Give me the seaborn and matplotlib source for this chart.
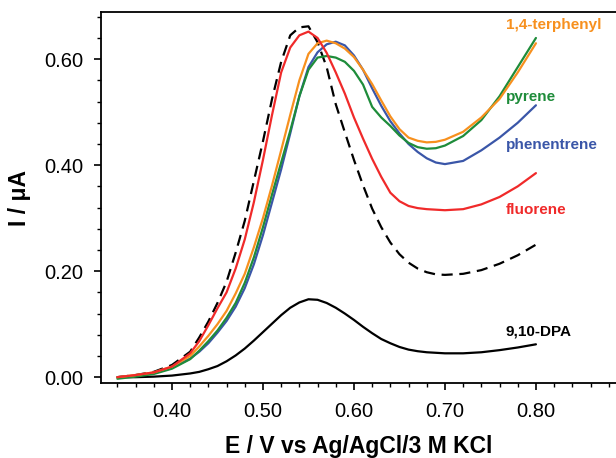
import numpy as np
import pandas as pd
import seaborn as sns
import matplotlib.pyplot as plt
from matplotlib.ticker import MultipleLocator, FormatStrFormatter

# potential grid (V vs Ag/AgCl/3 M KCl)
E = [0.34, 0.36, 0.38, 0.40, 0.42, 0.43, 0.44, 0.45, 0.46, 0.47, 0.48, 0.49,
     0.50, 0.51, 0.52, 0.53, 0.54, 0.55, 0.56, 0.57, 0.58, 0.59, 0.60, 0.61,
     0.62, 0.63, 0.64, 0.65, 0.66, 0.67, 0.68, 0.69, 0.70, 0.72, 0.74, 0.76,
     0.78, 0.80]

# currents in uA
dashed = [0.000, 0.004, 0.010, 0.023, 0.048, 0.075, 0.105, 0.140, 0.180, 0.235, 0.295, 0.370,
          0.445, 0.525, 0.595, 0.645, 0.660, 0.662, 0.632, 0.585, 0.515, 0.462, 0.410, 0.362,
          0.318, 0.283, 0.254, 0.232, 0.216, 0.205, 0.198, 0.194, 0.193, 0.195, 0.202, 0.214,
          0.230, 0.250]
fluorene = [0.000, 0.004, 0.009, 0.020, 0.045, 0.068, 0.098, 0.130, 0.160, 0.205, 0.260, 0.330,
            0.410, 0.495, 0.575, 0.622, 0.645, 0.652, 0.640, 0.612, 0.575, 0.535, 0.490, 0.450,
            0.412, 0.378, 0.348, 0.332, 0.323, 0.319, 0.317, 0.316, 0.315, 0.317, 0.326, 0.340,
            0.360, 0.385]
terphenyl = [0.000, 0.004, 0.009, 0.020, 0.040, 0.058, 0.078, 0.100, 0.125, 0.158, 0.195, 0.245,
             0.300, 0.362, 0.428, 0.495, 0.560, 0.610, 0.630, 0.635, 0.630, 0.620, 0.604, 0.580,
             0.553, 0.522, 0.492, 0.468, 0.452, 0.446, 0.443, 0.444, 0.448, 0.463, 0.490, 0.525,
             0.575, 0.630]
pyrene = [-0.003, 0.001, 0.006, 0.016, 0.034, 0.050, 0.068, 0.088, 0.112, 0.140, 0.178, 0.226,
          0.283, 0.345, 0.405, 0.465, 0.530, 0.580, 0.603, 0.606, 0.603, 0.595, 0.578, 0.552,
          0.510, 0.490, 0.474, 0.456, 0.442, 0.434, 0.431, 0.432, 0.437, 0.455, 0.485, 0.530,
          0.585, 0.640]
phenentrene = [0.000, 0.003, 0.008, 0.018, 0.035, 0.048, 0.064, 0.084, 0.106, 0.133, 0.168, 0.213,
               0.268, 0.330, 0.392, 0.460, 0.530, 0.585, 0.613, 0.628, 0.633, 0.626, 0.607, 0.580,
               0.545, 0.512, 0.483, 0.460, 0.440, 0.425, 0.413, 0.405, 0.402, 0.408, 0.428, 0.452,
               0.480, 0.513]
dpa = [0.000, 0.000, 0.001, 0.003, 0.007, 0.010, 0.015, 0.021, 0.030, 0.041, 0.054, 0.069,
       0.085, 0.101, 0.117, 0.131, 0.141, 0.147, 0.146, 0.140, 0.131, 0.120, 0.108, 0.095,
       0.083, 0.072, 0.064, 0.057, 0.052, 0.049, 0.047, 0.046, 0.045, 0.045, 0.047, 0.051,
       0.056, 0.062]

orange = '#F7901E'
green = '#1E8C3A'
blue = '#3A56A8'
red = '#F02A2A'

sns.set_style('ticks')
plt.rcParams['font.family'] = ['Liberation Sans', 'DejaVu Sans']
plt.rcParams['text.color'] = 'black'
plt.rcParams['axes.labelcolor'] = 'black'
plt.rcParams['xtick.color'] = 'black'
plt.rcParams['ytick.color'] = 'black'

fig = plt.figure(figsize=(6.16, 4.58), dpi=100)
ax = fig.add_axes([101/616, 75/458, 515/616, 371/458])

sns.lineplot(x=E, y=dashed, color='black', lw=1.6, linestyle=(0, (5, 3)), ax=ax)
sns.lineplot(x=E, y=dpa, color='black', lw=1.6, ax=ax)
sns.lineplot(x=E, y=phenentrene, color=blue, lw=1.6, ax=ax)
sns.lineplot(x=E, y=pyrene, color=green, lw=1.6, ax=ax)
sns.lineplot(x=E, y=terphenyl, color=orange, lw=1.6, ax=ax)
sns.lineplot(x=E, y=fluorene, color=red, lw=1.6, ax=ax)

ax.set_xlim(0.322, 0.888)
ax.set_ylim(-0.011, 0.689)
ax.xaxis.set_major_locator(MultipleLocator(0.1))
ax.xaxis.set_minor_locator(MultipleLocator(0.02))
ax.yaxis.set_major_locator(MultipleLocator(0.2))
ax.yaxis.set_minor_locator(MultipleLocator(0.04))
ax.xaxis.set_major_formatter(FormatStrFormatter('%.2f'))
ax.yaxis.set_major_formatter(FormatStrFormatter('%.2f'))
ax.tick_params(which='major', length=5, width=1.2, labelsize=14.5, color='black', labelcolor='black')
ax.tick_params(which='minor', length=3, width=1.0, color='black')
ax.tick_params(axis='x', which='major', pad=9)
ax.tick_params(axis='y', which='major', pad=8)

for s in ['left', 'bottom', 'top']:
    ax.spines[s].set_linewidth(1.3)
    ax.spines[s].set_color('black')
ax.spines['right'].set_visible(False)

ax.set_xlabel('E / V vs Ag/AgCl/3 M KCl', fontsize=16.5, fontweight='bold', labelpad=10)
ax.set_ylabel('I / \u03bcA', fontsize=16.5, fontweight='bold', labelpad=9)

lab = dict(fontsize=11, fontweight='bold', ha='left', va='center')
ax.text(0.767, 0.664, '1,4-terphenyl', color=orange, **lab)
ax.text(0.767, 0.528, 'pyrene', color=green, **lab)
ax.text(0.767, 0.438, 'phenentrene', color=blue, **lab)
ax.text(0.767, 0.315, 'fluorene', color=red, **lab)
ax.text(0.767, 0.087, '9,10-DPA', color='black', **lab)

fig.savefig('out.png', dpi=100)
